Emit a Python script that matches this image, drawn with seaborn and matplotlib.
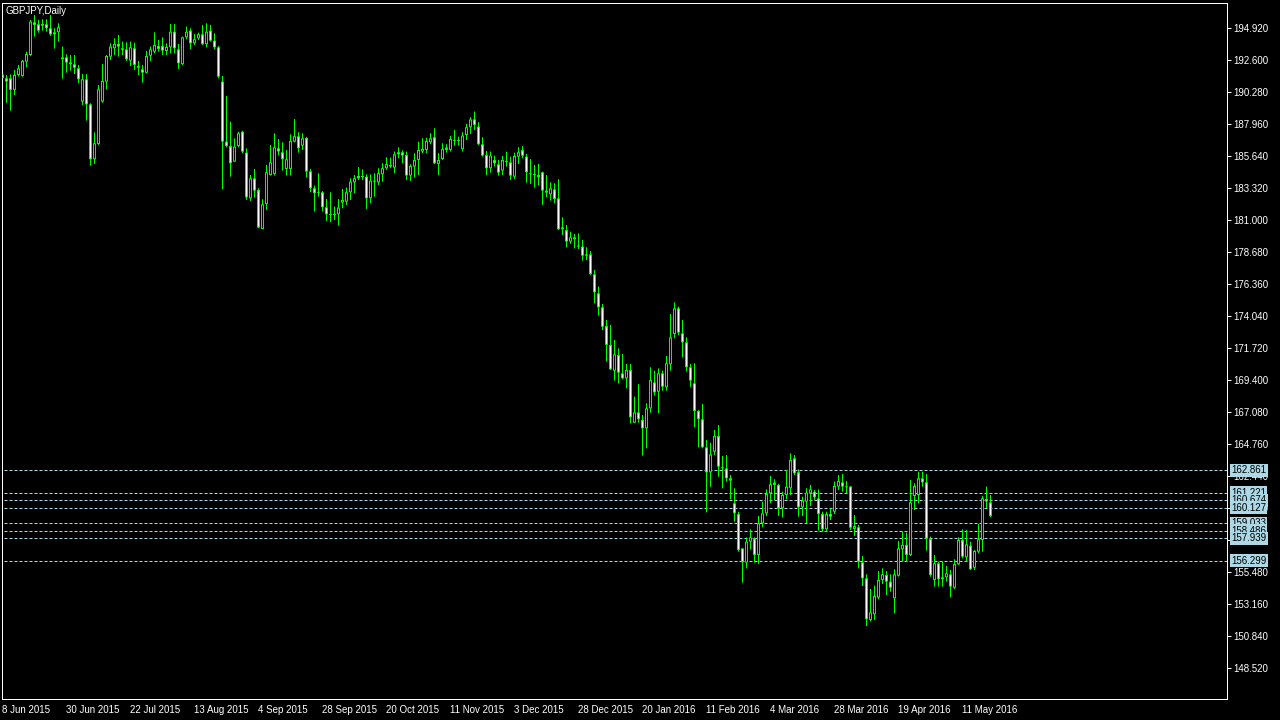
import numpy as np
import pandas as pd
import seaborn as sns
import matplotlib
matplotlib.use('Agg')
import matplotlib.pyplot as plt

# GBPJPY daily bars, 8 Jun 2015 .. 20 May 2016
symbol = 'GBPJPY,Daily'
start, end = '2015-06-08', '2016-05-20'
holidays = ['2015-12-25', '2016-01-01']

opens = [
    191.55, 191.27, 191.27, 190.43, 191.51, 191.44, 192.48, 192.96, 195.33, 195.19,
    195.09, 195.19, 194.90, 194.46, 194.61, 192.65, 192.79, 192.43, 192.29, 192.00,
    189.58, 191.20, 189.38, 185.40, 186.51, 189.58, 191.03, 192.84, 193.45, 193.76,
    193.45, 193.37, 192.55, 193.45, 192.16, 191.92, 191.68, 192.91, 193.20, 193.61,
    193.61, 193.25, 193.52, 194.65, 193.37, 192.29, 194.24, 194.73, 193.81, 194.17,
    194.46, 193.74, 194.73, 194.00, 193.52, 191.03, 186.68, 186.36, 185.23, 186.36,
    187.40, 185.88, 182.57, 184.02, 183.18, 180.35, 182.16, 184.26, 184.34, 186.20,
    185.91, 184.70, 184.70, 186.68, 187.07, 186.39, 186.95, 184.53, 183.30, 182.94,
    183.01, 181.92, 181.40, 181.36, 181.41, 182.26, 182.33, 183.01, 183.73, 184.02,
    184.19, 184.14, 182.57, 183.85, 183.73, 184.31, 184.75, 184.99, 184.80, 185.76,
    185.91, 185.71, 184.22, 184.87, 185.35, 185.96, 186.08, 186.63, 187.00, 185.06,
    185.42, 186.08, 186.08, 186.80, 186.73, 186.13, 187.16, 187.72, 188.30, 187.77,
    186.49, 185.71, 184.75, 185.35, 185.04, 184.58, 185.25, 185.18, 184.14, 185.59,
    186.07, 185.59, 184.38, 184.33, 184.09, 184.46, 183.13, 182.86, 183.22, 182.57,
    180.32, 180.27, 179.43, 179.74, 179.11, 179.07, 178.41, 178.51, 177.06, 175.68,
    174.67, 173.31, 171.94, 170.07, 171.21, 169.88, 169.52, 170.12, 166.30, 167.05,
    166.50, 165.89, 167.34, 169.23, 168.55, 169.88, 168.87, 170.53, 172.73, 174.59,
    172.78, 172.13, 170.32, 169.16, 167.15, 166.55, 164.52, 162.70, 164.20, 165.34,
    163.07, 162.99, 162.10, 160.46, 159.68, 157.19, 156.16, 157.68, 157.92, 156.71,
    159.01, 159.73, 161.18, 161.79, 161.79, 160.10, 161.06, 161.55, 163.72, 162.71,
    160.17, 160.58, 161.18, 161.30, 160.82, 159.68, 158.57, 159.68, 159.85, 161.67,
    161.98, 161.67, 161.67, 158.60, 158.72, 156.18, 155.02, 152.00, 152.41, 153.62,
    154.90, 155.26, 154.78, 153.57, 155.21, 157.12, 157.44, 156.71, 160.99, 161.06,
    162.27, 161.98, 157.87, 154.90, 156.11, 154.95, 155.09, 155.31, 154.34, 156.03,
    157.80, 156.54, 157.39, 155.79, 156.95, 157.80, 160.77, 160.53,
]
highs = [
    191.75, 191.51, 191.56, 191.87, 192.24, 192.60, 193.20, 195.50, 195.86, 195.50,
    195.55, 195.55, 195.86, 194.90, 195.26, 193.57, 193.01, 192.96, 192.96, 192.24,
    191.58, 191.58, 189.46, 187.35, 190.79, 192.31, 192.96, 193.81, 194.17, 194.41,
    193.93, 193.88, 193.93, 193.86, 192.53, 192.24, 193.25, 193.57, 194.61, 194.05,
    194.24, 193.81, 195.21, 195.21, 193.76, 194.29, 195.02, 194.90, 194.48, 194.58,
    195.14, 195.26, 195.14, 194.53, 193.61, 191.44, 189.99, 188.13, 186.92, 187.40,
    187.47, 186.19, 184.26, 184.70, 183.30, 182.50, 184.99, 186.44, 187.29, 186.87,
    186.63, 186.08, 187.21, 188.32, 187.36, 187.29, 187.02, 184.70, 183.49, 184.39,
    183.10, 182.52, 183.01, 181.97, 182.52, 183.25, 183.35, 184.02, 184.26, 184.84,
    184.67, 184.31, 184.31, 184.39, 184.75, 185.11, 185.55, 185.52, 185.96, 186.27,
    186.05, 185.96, 185.04, 185.84, 186.68, 186.92, 186.97, 187.29, 187.65, 185.84,
    186.56, 186.49, 187.09, 187.53, 187.04, 187.36, 187.96, 188.45, 188.86, 188.08,
    187.00, 186.00, 185.96, 185.67, 185.35, 185.64, 185.95, 185.59, 185.88, 186.27,
    186.36, 185.78, 185.42, 184.99, 185.06, 184.50, 184.26, 183.73, 183.66, 183.95,
    181.19, 180.64, 180.15, 179.98, 180.03, 179.55, 179.02, 178.75, 177.37, 176.17,
    174.91, 173.75, 173.39, 172.30, 171.69, 171.28, 170.56, 170.56, 168.19, 169.11,
    166.86, 167.71, 170.32, 170.07, 170.24, 170.07, 171.14, 174.18, 175.03, 174.72,
    173.75, 172.49, 170.56, 170.61, 167.22, 167.66, 165.05, 164.85, 165.77, 166.13,
    163.89, 163.96, 162.51, 161.55, 159.85, 157.19, 157.99, 158.57, 157.99, 159.54,
    160.58, 161.47, 162.44, 162.20, 161.86, 161.30, 162.87, 164.08, 163.96, 162.92,
    160.94, 161.55, 161.79, 161.42, 161.47, 159.85, 159.85, 160.10, 162.03, 162.51,
    162.58, 162.08, 161.71, 159.61, 158.89, 156.64, 155.31, 154.25, 154.49, 155.55,
    155.74, 155.55, 155.31, 155.67, 157.73, 158.40, 158.33, 162.15, 161.91, 162.75,
    162.75, 162.58, 158.04, 156.71, 156.23, 156.23, 155.91, 155.62, 156.40, 157.99,
    158.57, 158.52, 157.68, 157.07, 158.96, 160.99, 161.67, 161.06,
]
lows = [
    191.03, 189.50, 188.93, 190.06, 191.39, 191.39, 192.07, 192.89, 194.29, 194.58,
    194.73, 194.65, 194.34, 193.42, 193.93, 191.25, 191.68, 191.83, 191.58, 190.91,
    189.34, 188.20, 184.94, 185.06, 186.44, 189.50, 190.47, 192.60, 192.96, 192.84,
    192.96, 192.53, 192.16, 191.87, 191.51, 190.96, 191.63, 192.53, 193.08, 193.20,
    192.96, 192.96, 193.08, 193.08, 191.95, 192.24, 194.10, 193.37, 193.69, 194.05,
    193.69, 193.52, 193.93, 193.37, 191.27, 183.22, 186.27, 184.14, 185.23, 186.27,
    185.83, 182.45, 182.38, 182.62, 180.40, 180.35, 181.73, 184.22, 184.22, 185.67,
    184.58, 184.22, 184.22, 186.63, 185.88, 186.08, 184.07, 183.01, 181.61, 182.69,
    181.61, 180.93, 180.83, 181.00, 180.59, 181.85, 182.09, 182.45, 182.94, 183.90,
    183.90, 181.80, 182.21, 182.69, 183.54, 183.78, 184.63, 184.75, 184.39, 185.47,
    185.11, 183.90, 183.83, 184.07, 184.26, 185.84, 185.84, 186.49, 185.04, 184.26,
    185.35, 185.88, 185.96, 186.39, 186.39, 185.96, 186.80, 187.24, 187.53, 186.44,
    185.59, 184.26, 184.43, 184.87, 184.22, 184.26, 184.87, 183.90, 183.97, 185.06,
    185.47, 183.71, 183.61, 183.34, 183.49, 182.09, 182.64, 182.40, 182.21, 180.27,
    179.91, 179.02, 179.26, 178.94, 178.90, 178.05, 178.10, 177.01, 174.96, 174.06,
    173.02, 170.73, 170.12, 169.35, 169.16, 169.45, 168.79, 166.26, 166.30, 166.30,
    163.91, 164.44, 167.03, 168.26, 166.98, 168.62, 168.62, 170.07, 172.42, 172.66,
    171.04, 170.00, 168.87, 165.97, 164.52, 164.44, 159.80, 161.66, 163.96, 162.39,
    161.54, 162.03, 160.75, 159.13, 156.95, 154.71, 155.74, 157.12, 156.16, 156.06,
    158.72, 159.54, 160.46, 160.70, 159.54, 159.44, 160.75, 161.06, 162.51, 159.49,
    159.54, 159.01, 160.26, 160.70, 158.48, 158.40, 158.40, 159.25, 159.68, 161.42,
    161.30, 161.18, 158.52, 158.09, 155.74, 154.46, 151.56, 151.88, 152.00, 153.50,
    154.61, 153.81, 154.05, 152.48, 155.14, 156.23, 156.23, 156.64, 159.97, 160.46,
    161.67, 157.03, 155.14, 154.42, 154.42, 154.42, 154.78, 153.64, 154.25, 155.99,
    156.47, 156.23, 155.62, 155.62, 156.83, 156.95, 160.10, 159.44,
]
closes = [
    191.27, 191.03, 190.43, 191.51, 192.00, 192.53, 193.03, 195.38, 195.14, 194.73,
    195.21, 194.90, 194.46, 194.61, 194.97, 192.79, 192.41, 192.29, 192.04, 191.20,
    191.20, 189.38, 185.40, 186.56, 190.47, 191.08, 192.89, 193.57, 193.76, 193.57,
    193.33, 192.65, 193.52, 192.24, 192.04, 191.68, 192.89, 193.37, 193.69, 193.40,
    193.28, 193.54, 194.65, 193.45, 192.36, 194.24, 194.65, 193.81, 194.10, 194.46,
    193.74, 194.65, 194.00, 193.52, 191.39, 186.68, 186.36, 185.11, 186.32, 187.28,
    185.95, 182.64, 184.02, 183.13, 180.45, 182.14, 184.46, 185.18, 186.27, 185.96,
    185.40, 185.40, 186.73, 187.07, 186.20, 186.92, 184.51, 183.30, 182.94, 183.01,
    181.92, 181.41, 181.36, 181.44, 181.90, 182.45, 183.01, 183.78, 184.02, 184.19,
    184.10, 182.57, 183.85, 183.78, 184.39, 184.75, 185.04, 184.87, 185.76, 185.91,
    185.67, 184.22, 184.92, 185.35, 186.08, 186.15, 186.73, 186.92, 185.11, 185.35,
    186.15, 186.25, 186.87, 186.73, 186.80, 187.12, 187.72, 188.28, 187.89, 186.49,
    185.67, 184.75, 185.67, 185.11, 184.43, 185.35, 185.21, 184.21, 185.64, 185.91,
    185.66, 184.46, 184.31, 184.24, 184.26, 183.13, 182.98, 183.30, 182.52, 180.32,
    180.47, 179.43, 179.74, 179.60, 179.07, 178.41, 178.51, 177.08, 175.75, 174.67,
    173.26, 171.94, 170.17, 171.26, 169.93, 169.52, 170.12, 166.69, 167.05, 166.55,
    165.89, 167.34, 169.40, 168.50, 169.88, 168.91, 170.61, 172.49, 174.59, 172.83,
    172.13, 170.32, 169.35, 167.15, 166.55, 164.52, 162.70, 164.01, 165.34, 163.11,
    162.99, 162.27, 162.27, 159.73, 157.07, 156.18, 157.68, 157.99, 156.71, 159.01,
    159.73, 161.13, 161.84, 161.96, 160.10, 161.06, 161.67, 163.60, 162.63, 160.17,
    160.65, 161.23, 161.47, 160.89, 159.68, 158.57, 159.68, 159.49, 161.71, 162.08,
    161.67, 161.62, 158.69, 158.81, 156.23, 155.02, 152.05, 152.55, 153.74, 154.90,
    155.31, 154.78, 154.34, 155.31, 157.19, 157.44, 156.71, 160.53, 161.71, 162.27,
    161.98, 157.92, 155.26, 156.11, 154.95, 155.09, 155.38, 154.42, 156.06, 157.80,
    156.59, 157.48, 155.67, 157.00, 157.85, 160.82, 160.58, 159.54,
]

# horizontal price levels drawn on the chart
level_lines = [162.861, 161.221, 160.674, 160.127, 159.033, 158.486, 157.939, 156.299]
price_ticks = [194.92, 192.60, 190.28, 187.96, 185.64, 183.32, 181.00, 178.68, 176.36,
               174.04, 171.72, 169.40, 167.08, 164.76, 162.44, 160.12, 157.80, 155.48,
               153.16, 150.84, 148.52]
date_step = 16

dates = pd.bdate_range(start, end)
dates = dates[~dates.isin(pd.to_datetime(holidays))]
df = pd.DataFrame({'date': dates, 'open': opens, 'high': highs, 'low': lows, 'close': closes})
df['x'] = np.arange(len(df))
df['bull'] = df['close'] >= df['open']
df['top'] = df[['open', 'close']].max(axis=1)
df['bot'] = df[['open', 'close']].min(axis=1)

GREEN = '#00ff00'
LEVEL = '#add8e6'

sns.set_theme(style='dark', rc={
    'axes.facecolor': 'black', 'figure.facecolor': 'black',
    'axes.edgecolor': 'white', 'axes.grid': False,
    'xtick.color': 'white', 'ytick.color': 'white', 'text.color': 'white',
})
plt.rcParams['font.family'] = ['Liberation Sans', 'DejaVu Sans']

fig = plt.figure(figsize=(12.8, 7.2), dpi=100)
ax = fig.add_axes([2 / 1280, 21 / 720, 1225 / 1280, 696 / 720])
ylo, yhi = 146.27, 196.73
px = (yhi - ylo) / 696  # one pixel in price units

# levels
ax.hlines(level_lines, -1, len(df) + 100, colors=LEVEL, linestyles=(0, (3, 2)),
          lw=0.72, zorder=1)

# wicks, then green body outline, then the body fill (white = down, black = up)
ax.vlines(df['x'], df['low'], df['high'], colors=GREEN, lw=0.72, snap=False, zorder=2)
ax.bar(df['x'], (df['top'] - df['bot']).clip(lower=px), bottom=df['bot'], width=0.75,
       color=GREEN, linewidth=0, snap=False, zorder=3)
inner = df[(df['top'] - df['bot']) > 2.5 * px]
ax.bar(inner['x'], inner['top'] - inner['bot'] - 2 * px, bottom=inner['bot'] + px,
       width=0.25, color=np.where(inner['bull'], 'black', 'white'), linewidth=0,
       snap=False, zorder=4)

ax.set_xlim(-0.125, -0.125 + 1225 / 4)
ax.set_ylim(ylo, yhi)

# price axis on the right
ax.yaxis.tick_right()
ax.set_yticks(price_ticks)
ax.set_yticklabels([f'{p:.3f}' for p in price_ticks])
ax.tick_params(axis='y', direction='out', length=3, width=0.72, labelsize=7, pad=1.5)

# date axis
tick_idx = df['x'][::date_step]
ax.set_xticks(tick_idx)
ax.set_xticklabels([f"{d.day} {d.strftime('%b %Y')}" for d in df['date'][::date_step]],
                   ha='left')
ax.tick_params(axis='x', direction='out', length=3, width=0.72, labelsize=7, pad=1.5)

for s in ax.spines.values():
    s.set_color('white')
    s.set_linewidth(0.72)

ax.annotate(symbol, xy=(0, 1), xycoords='axes fraction', xytext=(4, -3),
            textcoords='offset pixels', va='top', ha='left', fontsize=7, color='white')

# level price tags
for lv in level_lines:
    ax.annotate(f'{lv:.3f}', xy=(1, lv), xycoords=('axes fraction', 'data'),
                xytext=(4, 0), textcoords='offset pixels', ha='left', va='center',
                fontsize=7, color='black', annotation_clip=False, zorder=6,
                bbox=dict(boxstyle='square,pad=0.15', fc=LEVEL, ec='none'))

fig.savefig('out.png', dpi=100, facecolor='black')
